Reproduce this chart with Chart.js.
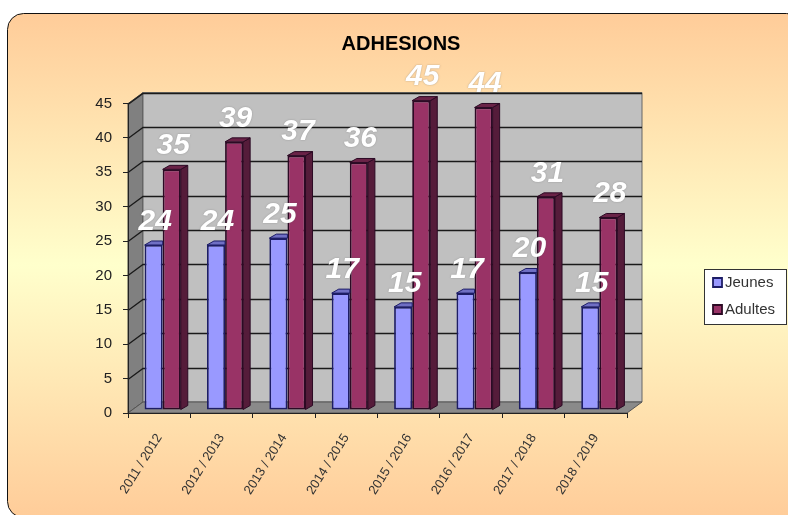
<!DOCTYPE html>
<html><head><meta charset="utf-8">
<style>html,body{margin:0;padding:0;background:#fff}#w{position:relative;width:788px;height:515px}</style>
<script src="https://cdn.jsdelivr.net/npm/chart.js@4"></script>
</head><body><div id="w"><canvas id="c" width="788" height="515"></canvas></div>
<script>
const categories = ["2011 / 2012","2012 / 2013","2013 / 2014","2014 / 2015","2015 / 2016","2016 / 2017","2017 / 2018","2018 / 2019"];
const jeunes = [24,24,25,17,15,17,20,15];
const adultes = [35,39,37,36,45,44,31,28];
const titleText = "ADHESIONS";
const FONT = '"Liberation Sans", Arial, sans-serif';
const WALL = {dx:15, dy:-11}, BAR = {dx:7, dy:-4}, SHIFT = {dx:3.5, dy:-3};
const sideColors = [{side:'#4a4a80', top:'#6f6fc4', line:'#1d1d66'},{side:'#551c3a', top:'#6a2347', line:'#2c0a24'}];

function poly(ctx, pts, fill, stroke, lw){
  ctx.beginPath(); pts.forEach((p,i)=> i?ctx.lineTo(p[0],p[1]):ctx.moveTo(p[0],p[1])); ctx.closePath();
  if(fill){ctx.fillStyle=fill;ctx.fill();}
  if(stroke){ctx.strokeStyle=stroke;ctx.lineWidth=lw||1;ctx.stroke();}
}
const scene = {
  id:'scene',
  beforeLayout(chart){
    const lg = chart.legend;
    if(lg && !lg._wrapped){ const f = lg.fit.bind(lg); lg.fit = function(){ f(); this.width = 159; }; lg._wrapped = true; }
  },
  afterLayout(chart){
    const lg = chart.legend;
    lg.left = 705.5; lg.right = 786; lg.top = 263; lg.bottom = 420;
  },
  beforeDraw(chart){
    const ctx = chart.ctx, W = chart.width;
    const {left,right,top,bottom} = chart.chartArea;
    ctx.save();
    // panel
    const g = ctx.createLinearGradient(0,13,0,518);
    g.addColorStop(0,'#FFCC99'); g.addColorStop(0.5,'#FFFFCC'); g.addColorStop(1,'#FFCC99');
    ctx.beginPath(); ctx.roundRect(7.5,13.5,W+7,504,16);
    ctx.fillStyle=g; ctx.fill(); ctx.strokeStyle='#111'; ctx.lineWidth=1; ctx.stroke();
    // walls
    const dx=WALL.dx, dy=WALL.dy;
    poly(ctx,[[left,top],[left+dx,top+dy],[left+dx,bottom+dy],[left,bottom]],'#808080','#444');
    poly(ctx,[[left+dx,top+dy],[right+dx,top+dy],[right+dx,bottom+dy],[left+dx,bottom+dy]],'#C0C0C0','#666');
    poly(ctx,[[left,bottom],[left+dx,bottom+dy],[right+dx,bottom+dy],[right,bottom]],'#8a8a8a','#555');
    // gridlines from the value scale
    const ys = chart.scales.y;
    ctx.strokeStyle='#1a1a1a'; ctx.lineWidth=1.3;
    ys.ticks.forEach(t=>{
      const y = Math.round(ys.getPixelForValue(t.value))+0.5;
      if(t.value===0) return;
      ctx.beginPath(); ctx.moveTo(left,y); ctx.lineTo(left+dx,y+dy); ctx.lineTo(right+dx,y+dy); ctx.stroke();
    });
    // legend frame
    ctx.fillStyle='#fff'; ctx.strokeStyle='#333'; ctx.lineWidth=1;
    ctx.fillRect(704.5,269.5,82,55); ctx.strokeRect(704.5,269.5,82,55);
    ctx.restore();
  },
  beforeDatasetsDraw(chart){ chart.ctx.save(); chart.ctx.translate(SHIFT.dx,SHIFT.dy); },
  beforeDatasetDraw(chart,args){
    const ctx = chart.ctx, c = sideColors[args.index];
    const isFront = args.index === 0; // first series sits in front of the taller neighbour: cut its depth at the neighbour's face
    args.meta.data.forEach(b=>{
      const x1=b.x+b.width/2, x0=b.x-b.width/2, y=b.y, base=b.base, d=BAR.dx, e=BAR.dy;
      if(isFront){
        poly(ctx,[[x0,y],[x1,y],[x1,y+e],[x0+d,y+e]],c.top,c.line);
      } else {
        poly(ctx,[[x1,y],[x1+d,y+e],[x1+d,base+e],[x1,base]],c.side,c.line);
        poly(ctx,[[x0,y],[x1,y],[x1+d,y+e],[x0+d,y+e]],c.top,c.line);
      }
    });
  },
  afterDatasetsDraw(chart){
    const ctx = chart.ctx;
    ctx.restore();
    ctx.save();
    ctx.font = 'italic bold 30px '+FONT;
    ctx.textAlign='center'; ctx.textBaseline='middle';
    ctx.fillStyle='#fff';
    ctx.shadowColor='rgba(90,90,90,.55)'; ctx.shadowBlur=1.5;
    chart.getSortedVisibleDatasetMetas().forEach(meta=>{
      meta.data.forEach((b,i)=>{
        const v = chart.data.datasets[meta.index].data[i];
        ctx.fillText(String(v), b.x+SHIFT.dx+1.5, b.y+SHIFT.dy-23.5);
      });
    });
    ctx.restore();
  }
};
new Chart(document.getElementById('c'),{
  type:'bar',
  data:{labels:categories,datasets:[
    {label:'Jeunes',data:jeunes,backgroundColor:'#9999FF',borderColor:'#1d1d66',borderWidth:1.8,borderSkipped:false,clip:false,categoryPercentage:0.58,barPercentage:1},
    {label:'Adultes',data:adultes,backgroundColor:'#993366',borderColor:'#2c0a24',borderWidth:1.8,borderSkipped:false,clip:false,categoryPercentage:0.58,barPercentage:1}
  ]},
  options:{
    responsive:false, animation:false, devicePixelRatio:1,
    layout:{padding:{left:16,right:2,top:32,bottom:2}},
    plugins:{
      tooltip:{enabled:false},
      title:{display:true,text:titleText,color:'#000',font:{family:FONT,size:20,weight:'bold'},padding:{top:0,bottom:47.6}},
      legend:{position:'right',align:'start',labels:{font:{family:FONT,size:15},color:'#333',usePointStyle:true,pointStyle:'rect',boxWidth:0.01,boxHeight:9,padding:12}}
    },
    scales:{
      x:{offset:true,
        grid:{display:true,offset:true,drawOnChartArea:false,drawTicks:true,tickLength:5,color:'#222'},
        border:{display:true,color:'#222'},
        ticks:{font:{family:FONT,size:13},color:'#333',minRotation:58,maxRotation:58,autoSkip:false,padding:13},
        afterFit(s){s.height=100;}
      },
      y:{min:0,max:45,
        grid:{display:true,drawOnChartArea:false,drawTicks:true,tickLength:5,color:'#222'},
        border:{display:true,color:'#222'},
        ticks:{stepSize:5,font:{family:FONT,size:15},color:'#222',padding:11},
        afterFit(s){s.width=112;}
      }
    }
  },
  plugins:[scene]
});
</script></body></html>
